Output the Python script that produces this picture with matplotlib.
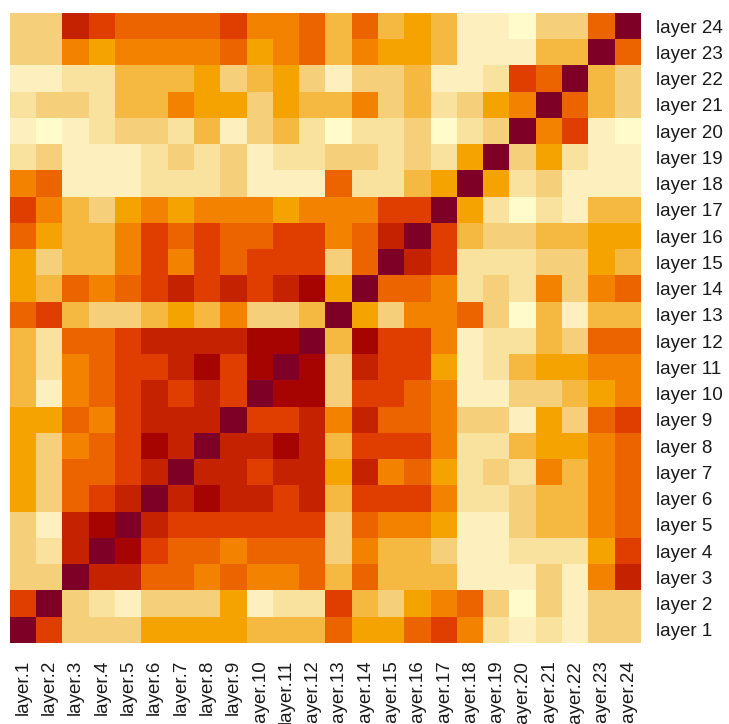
import numpy as np
import matplotlib
matplotlib.use("Agg")
import matplotlib.pyplot as plt
from matplotlib.colors import ListedColormap

# colour bins, lightest (0) to darkest (11)
bin_colors = ["#FFFBCB", "#FEF0BE", "#F9E29E", "#F5CF7A", "#F5B840", "#F4A300",
              "#F28200", "#EC6400", "#E03E00", "#C42200", "#A50400", "#7F0027"]

col_labels = ["layer.%d" % i for i in range(1, 25)]
row_labels = ["layer %d" % i for i in range(24, 0, -1)]   # top to bottom

# binned similarity, rows listed top (layer 24) to bottom (layer 1)
levels = [
    [3, 3, 9, 8, 7, 7, 7, 7, 8, 6, 6, 7, 4, 7, 4, 5, 4, 1, 1, 0, 3, 3, 7, 11],
    [3, 3, 6, 5, 6, 6, 6, 6, 7, 5, 6, 7, 4, 6, 5, 5, 4, 1, 1, 1, 4, 4, 11, 7],
    [1, 1, 2, 2, 4, 4, 4, 5, 3, 4, 5, 3, 1, 3, 3, 4, 1, 1, 2, 8, 7, 11, 4, 3],
    [2, 3, 3, 2, 4, 4, 6, 5, 5, 3, 5, 4, 4, 6, 3, 4, 2, 3, 5, 6, 11, 7, 4, 3],
    [1, 0, 1, 2, 3, 3, 2, 4, 1, 3, 4, 2, 0, 2, 2, 3, 0, 2, 3, 11, 6, 8, 1, 0],
    [2, 3, 1, 1, 1, 2, 3, 2, 3, 1, 2, 2, 3, 3, 2, 3, 2, 5, 11, 3, 5, 2, 1, 1],
    [6, 7, 1, 1, 1, 2, 2, 2, 3, 1, 1, 1, 7, 2, 2, 4, 5, 11, 5, 2, 3, 1, 1, 1],
    [8, 6, 4, 3, 5, 6, 5, 6, 6, 6, 5, 6, 6, 6, 8, 8, 11, 5, 2, 0, 2, 1, 4, 4],
    [7, 5, 4, 4, 6, 8, 7, 8, 7, 7, 8, 8, 6, 7, 9, 11, 8, 4, 3, 3, 4, 4, 5, 5],
    [5, 3, 4, 4, 6, 8, 6, 8, 7, 8, 8, 8, 3, 7, 11, 9, 8, 2, 2, 2, 3, 3, 5, 4],
    [5, 4, 7, 6, 7, 8, 9, 8, 9, 8, 9, 10, 5, 11, 7, 7, 6, 2, 3, 2, 6, 3, 6, 7],
    [7, 8, 4, 3, 3, 4, 5, 4, 6, 3, 3, 4, 11, 5, 3, 6, 6, 7, 3, 0, 4, 1, 4, 4],
    [4, 2, 7, 7, 8, 9, 9, 9, 9, 10, 10, 11, 4, 10, 8, 8, 6, 1, 2, 2, 4, 3, 7, 7],
    [4, 2, 6, 7, 8, 8, 9, 10, 8, 10, 11, 10, 3, 9, 8, 8, 5, 1, 2, 4, 5, 5, 6, 6],
    [4, 1, 6, 7, 8, 9, 8, 9, 8, 11, 10, 10, 3, 8, 8, 7, 6, 1, 1, 3, 3, 4, 5, 6],
    [5, 5, 7, 6, 8, 9, 9, 9, 11, 8, 8, 9, 6, 9, 7, 7, 6, 3, 3, 1, 5, 3, 7, 8],
    [5, 3, 6, 7, 8, 10, 9, 11, 9, 9, 10, 9, 4, 8, 8, 8, 6, 2, 2, 4, 5, 5, 6, 7],
    [5, 3, 7, 7, 8, 9, 11, 9, 9, 8, 9, 9, 5, 9, 6, 7, 5, 2, 3, 2, 6, 4, 6, 7],
    [5, 3, 7, 8, 9, 11, 9, 10, 9, 9, 8, 9, 4, 8, 8, 8, 6, 2, 2, 3, 4, 4, 6, 7],
    [3, 1, 9, 10, 11, 9, 8, 8, 8, 8, 8, 8, 3, 7, 6, 6, 5, 1, 1, 3, 4, 4, 6, 7],
    [3, 2, 9, 11, 10, 8, 7, 7, 6, 7, 7, 7, 3, 6, 4, 4, 3, 1, 1, 2, 2, 2, 5, 8],
    [3, 3, 11, 9, 9, 7, 7, 6, 7, 6, 6, 7, 4, 7, 4, 4, 4, 1, 1, 1, 3, 1, 6, 9],
    [8, 11, 3, 2, 1, 3, 3, 3, 5, 1, 2, 2, 8, 4, 3, 5, 6, 7, 3, 0, 3, 1, 3, 3],
    [11, 8, 3, 3, 3, 5, 5, 5, 5, 4, 4, 4, 7, 5, 5, 7, 8, 6, 2, 1, 2, 1, 3, 3],
]

plt.rcParams['font.family'] = ['Liberation Sans', 'DejaVu Sans']

fig = plt.figure(figsize=(7.29, 7.24), dpi=100)
ax = fig.add_axes([10 / 729, 81 / 724, 631 / 729, 630 / 724])

ax.imshow(np.array(levels), cmap=ListedColormap(bin_colors), vmin=-0.5, vmax=11.5,
          aspect='auto', interpolation='nearest')

ax.set_xticks(range(24))
ax.set_xticklabels(col_labels, rotation=90, fontsize=13.5, color='#1a1a1a')
ax.set_yticks(range(24))
ax.set_yticklabels(row_labels, fontsize=13.5, color='#1a1a1a')
ax.yaxis.tick_right()
ax.tick_params(axis='x', length=0, pad=12)
ax.tick_params(axis='y', length=0, pad=11)
for s in ax.spines.values():
    s.set_visible(False)

fig.savefig("out.png", dpi=100)
